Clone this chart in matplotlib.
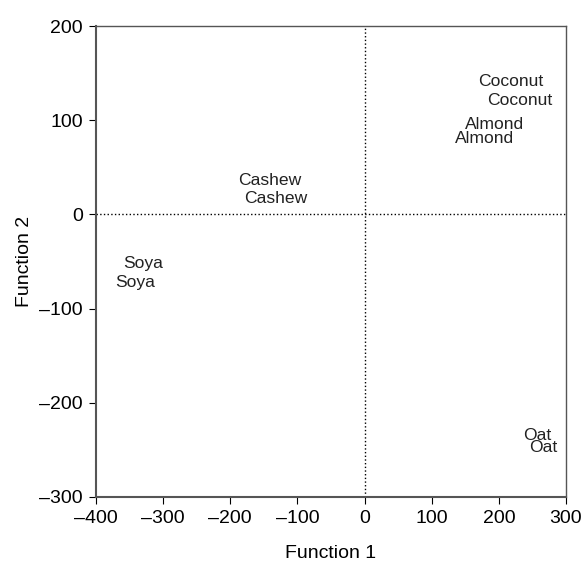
import matplotlib.pyplot as plt

plt.rcParams['font.family'] = ['Liberation Sans', 'DejaVu Sans']

# discriminant scores, two samples per milk
labels = ["Coconut", "Coconut", "Almond", "Almond", "Cashew", "Cashew",
          "Soya", "Soya", "Oat", "Oat"]
func1 = [217, 231, 193, 179, -141, -132, -330, -342, 257, 266]
func2 = [136, 116, 91, 76, 31, 12, -57, -77, -240, -252]

xticks = [-400, -300, -200, -100, 0, 100, 200, 300]
yticks = [-300, -200, -100, 0, 100, 200]
xticklabels = ["\u2013400", "\u2013300", "\u2013200", "\u2013100", "0", "100", "200", "300"]
yticklabels = ["\u2013300", "\u2013200", "\u2013100", "0", "100", "200"]

fig = plt.figure(figsize=(5.84, 5.62), dpi=100)
ax = fig.add_axes([0.1644, 0.1157, 0.8048, 0.838])

for lab, x, y in zip(labels, func1, func2):
    ax.text(x, y, lab, ha="center", va="baseline", fontsize=12.6, color="#222222")

ax.axhline(0, color="black", linestyle=":", linewidth=1)
ax.axvline(0, color="black", linestyle=":", linewidth=1)

ax.set_xlim(-400, 300)
ax.set_ylim(-300, 200)
ax.set_xticks(xticks, xticklabels)
ax.set_yticks(yticks, yticklabels)
ax.tick_params(direction="out", length=5, pad=4.5, labelsize=14, top=False, right=False)
for side in ["left", "bottom"]:
    ax.spines[side].set_color("#555555")
    ax.spines[side].set_linewidth(1.5)
for side in ["top", "right"]:
    ax.spines[side].set_color("#555555")
    ax.spines[side].set_linewidth(1)

ax.set_xlabel("Function 1", fontsize=14)
ax.set_ylabel("Function 2", fontsize=14)
ax.xaxis.set_label_coords(0.5, -0.102)
ax.yaxis.set_label_coords(-0.134, 0.5)

fig.savefig("out.png", dpi=100)
